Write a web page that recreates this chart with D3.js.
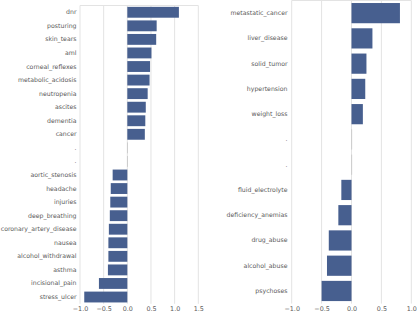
<!DOCTYPE html>
<html><head><meta charset="utf-8">
<script src="https://cdn.jsdelivr.net/npm/d3@7"></script>
<style>body{margin:0;background:#fff}svg{display:block}</style>
</head><body>
<script>
const leftCats = ["dnr","posturing","skin_tears","aml","corneal_reflexes","metabolic_acidosis","neutropenia","ascites","dementia","cancer",".",".","aortic_stenosis","headache","injuries","deep_breathing","coronary_artery_disease","nausea","alcohol_withdrawal","asthma","incisional_pain","stress_ulcer"];
const leftVals = [1.09,0.62,0.61,0.51,0.48,0.47,0.43,0.39,0.38,0.37,0.004,0.004,-0.31,-0.35,-0.36,-0.37,-0.39,-0.40,-0.40,-0.41,-0.60,-0.91];
const leftTicks = [-1.0,-0.5,0.0,0.5,1.0,1.5];

const rightCats = ["metastatic_cancer","liver_disease","solid_tumor","hypertension","weight_loss",".",".","fluid_electrolyte","deficiency_anemias","drug_abuse","alcohol_abuse","psychoses"];
const rightVals = [0.81,0.35,0.25,0.23,0.19,0.004,0.004,-0.17,-0.22,-0.38,-0.41,-0.50];
const rightTicks = [-1.0,-0.5,0.0,0.5,1.0];

const W=417,H=312;
const svg=d3.select("body").append("svg").attr("width",W).attr("height",H);
const barColor="#475f8f", gridColor="#e3e3e3", textColor="#5a5a5a";
const fmt = d => (d<0?"\u2212":"")+Math.abs(d).toFixed(1);

function panel(cats, vals, ticks, x0, x1, y0, y1, labelX){
  const g=svg.append("g");
  const x=d3.scaleLinear().domain([ticks[0],ticks[ticks.length-1]]).range([x0,x1]);
  const y=d3.scaleBand().domain(cats.map((c,i)=>i)).range([y0,y1]).paddingInner(0.2).paddingOuter(0.1);
  g.selectAll("line.grid").data(ticks).join("line")
    .attr("x1",d=>x(d)).attr("x2",d=>x(d)).attr("y1",y0).attr("y2",y1)
    .attr("stroke",gridColor).attr("stroke-width",1);
  g.append("line").attr("x1",x0).attr("x2",x1).attr("y1",y0).attr("y2",y0).attr("stroke",gridColor);
  g.selectAll("rect.bar").data(vals).join("rect")
    .attr("x",d=>x(Math.min(0,d))).attr("width",d=>Math.max(0.6,Math.abs(x(d)-x(0))))
    .attr("y",(d,i)=>y(i)).attr("height",y.bandwidth())
    .attr("fill",d=>Math.abs(d)<0.01?"#bbb":barColor);
  const ya=d3.axisLeft(y).tickSize(0).tickPadding(0).tickFormat(i=>cats[i]);
  const yg=g.append("g").attr("transform",`translate(${labelX},0)`).call(ya);
  yg.select(".domain").remove();
  yg.selectAll("text").attr("fill",textColor).style("font-family","DejaVu Sans").style("font-size","6.2px");
  const xa=d3.axisBottom(x).tickValues(ticks).tickSize(0).tickPadding(3).tickFormat(fmt);
  const xg=g.append("g").attr("transform",`translate(0,${y1})`).call(xa);
  xg.select(".domain").remove();
  xg.selectAll("text").attr("fill",textColor).style("font-family","DejaVu Sans").style("font-size","6.4px");
}
panel(leftCats,leftVals,leftTicks,80,198.3,5.5,303.8,76.5);
panel(rightCats,rightVals,rightTicks,291.7,411.3,0.5,303.6,287.5);
</script>
</body></html>
